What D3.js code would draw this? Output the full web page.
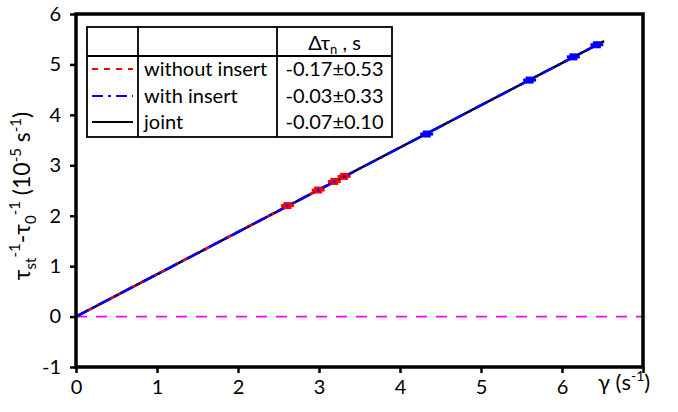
<!DOCTYPE html>
<html><head><meta charset="utf-8">
<script src="https://cdn.jsdelivr.net/npm/d3@7"></script>
<style>body{margin:0;background:#fff}svg{display:block;font-family:Lato,sans-serif}</style>
</head><body><svg id="c" width="678" height="412"></svg>
<script>
const xTicks = [0,1,2,3,4,5,6,7];
const xTickLabels = ["0","1","2","3","4","5","6",""];
const yTicks = [-1,0,1,2,3,4,5,6];
const yTickLabels = ["-1","0","1","2","3","4","5","6"];
const withoutX = [2.61,2.99,3.19,3.31];
const withoutY = [2.20,2.51,2.68,2.78];
const withX = [4.33,5.60,6.14,6.43];
const withY = [3.62,4.69,5.15,5.39];
const fitNames = ["without insert","with insert","joint"];
const fitSlopes = [0.840,0.838,0.838];
const fitEnds = [3.35,6.47,6.52];
const fitValues = ["-0.17±0.53","-0.03±0.33","-0.07±0.10"];
const fitColors = ["#ff0000","#0000ff","#000000"];
const errX = 0.08, errY = 0.06;
const FF = "Lato";

const svg = d3.select("#c");
const x = d3.scaleLinear().domain([0,7]).range([76,643]);
const y = d3.scaleLinear().domain([-1,6]).range([367,14]);

svg.append("line").attr("x1",x(0)).attr("x2",x(7)).attr("y1",y(0)).attr("y2",y(0))
  .attr("stroke","#ff00ff").attr("stroke-width",1.8).attr("stroke-dasharray","11,9");

const plotDash = ["7,5","14,4,3,4",null];
[2,0,1].forEach(i=>{
  svg.append("line").attr("x1",x(0)).attr("y1",y(0)).attr("x2",x(fitEnds[i])).attr("y2",y(fitSlopes[i]*fitEnds[i]))
    .attr("stroke",fitColors[i]).attr("stroke-width",2.5).attr("stroke-dasharray",plotDash[i]);
});

function points(xs,ys,col){
  const g = svg.append("g");
  xs.forEach((v,i)=>{
    const cx=x(v), cy=y(ys[i]);
    g.append("line").attr("x1",x(v-errX)).attr("x2",x(v+errX)).attr("y1",cy).attr("y2",cy).attr("stroke",col).attr("stroke-width",3);
    g.append("line").attr("x1",cx).attr("x2",cx).attr("y1",y(ys[i]-errY)).attr("y2",y(ys[i]+errY)).attr("stroke",col).attr("stroke-width",3);
    g.append("rect").attr("x",cx-4).attr("y",cy-3.5).attr("width",8).attr("height",7).attr("fill",col);
    g.append("circle").attr("cx",cx).attr("cy",cy).attr("r",1.5).attr("fill","#0000ff");
  });
}
points(withoutX,withoutY,"#ff0000");
points(withX,withY,"#0000ff");

svg.append("rect").attr("x",x(0)).attr("y",y(6)).attr("width",x(7)-x(0)).attr("height",y(-1)-y(6))
  .attr("fill","none").attr("stroke","#000").attr("stroke-width",3.5);

const xa = svg.append("g").attr("transform",`translate(0,${y(-1)})`)
  .call(d3.axisBottom(x).tickValues(xTicks).tickFormat((d,i)=>xTickLabels[i]).tickSize(6).tickPadding(7));
const ya = svg.append("g").attr("transform",`translate(${x(0)},0)`)
  .call(d3.axisLeft(y).tickValues(yTicks).tickFormat((d,i)=>yTickLabels[i]).tickSize(6).tickPadding(9));
[xa,ya].forEach(a=>{
  a.attr("font-size",20).attr("font-family",FF);
  a.select(".domain").remove();
  a.selectAll(".tick line").attr("stroke-width",2.5);
  a.selectAll("text").attr("font-size",20).attr("fill","#000").attr("font-family",FF);
});

const xl = svg.append("text").attr("x",598).attr("y",390).attr("font-size",22).attr("font-family",FF).attr("fill","#000");
xl.append("tspan").text("γ (s");
xl.append("tspan").attr("dy",-9).attr("font-size",14).text("-1");
xl.append("tspan").attr("dy",9).text(")");

const yl = svg.append("text").attr("transform","translate(30,196) rotate(-90)").attr("text-anchor","middle").attr("font-size",23).attr("font-family",FF).attr("fill","#000");
yl.append("tspan").text("τ");
yl.append("tspan").attr("dy",6).attr("font-size",15).text("st");
yl.append("tspan").attr("dy",-16).attr("font-size",15).text("-1");
yl.append("tspan").attr("dy",10).text("-τ");
yl.append("tspan").attr("dy",6).attr("font-size",15).text("0");
yl.append("tspan").attr("dy",-16).attr("font-size",15).text("-1");
yl.append("tspan").attr("dy",10).text(" (10");
yl.append("tspan").attr("dy",-9).attr("font-size",15).text("-5");
yl.append("tspan").attr("dy",9).text(" s");
yl.append("tspan").attr("dy",-9).attr("font-size",15).text("-1");
yl.append("tspan").attr("dy",9).text(")");

const L = svg.append("g").attr("font-family",FF);
const tx0=87, tx1=138, tx2=277, tx3=392, ty0=27, ty1=56, ty3=137;
L.append("rect").attr("x",tx0).attr("y",ty0).attr("width",tx3-tx0).attr("height",ty3-ty0).attr("fill","#fff").attr("stroke","#000").attr("stroke-width",1.8);
[tx1,tx2].forEach(v=>L.append("line").attr("x1",v).attr("x2",v).attr("y1",ty0).attr("y2",ty3).attr("stroke","#000").attr("stroke-width",1.8));
L.append("line").attr("x1",tx0).attr("x2",tx3).attr("y1",ty1).attr("y2",ty1).attr("stroke","#000").attr("stroke-width",1.8);
const hd = L.append("text").attr("x",(tx2+tx3)/2).attr("y",50).attr("text-anchor","middle").attr("font-size",20).attr("fill","#000");
hd.append("tspan").text("Δτ");
hd.append("tspan").attr("dy",4).attr("font-size",13).text("n");
hd.append("tspan").attr("dy",-4).text(" , s");
const rowY = [69,96,122];
const legDash = ["6,6","11,5,3,5",null];
fitNames.forEach((n,i)=>{
  L.append("line").attr("x1",92).attr("x2",133).attr("y1",rowY[i]).attr("y2",rowY[i])
    .attr("stroke",fitColors[i]).attr("stroke-width",2).attr("stroke-dasharray",legDash[i]);
  L.append("text").attr("x",144).attr("y",rowY[i]+7).attr("font-size",20).attr("fill","#000").text(n);
  L.append("text").attr("x",(tx2+tx3)/2).attr("y",rowY[i]+7).attr("text-anchor","middle").attr("font-size",20).attr("fill","#000").text(fitValues[i]);
});
</script></body></html>
